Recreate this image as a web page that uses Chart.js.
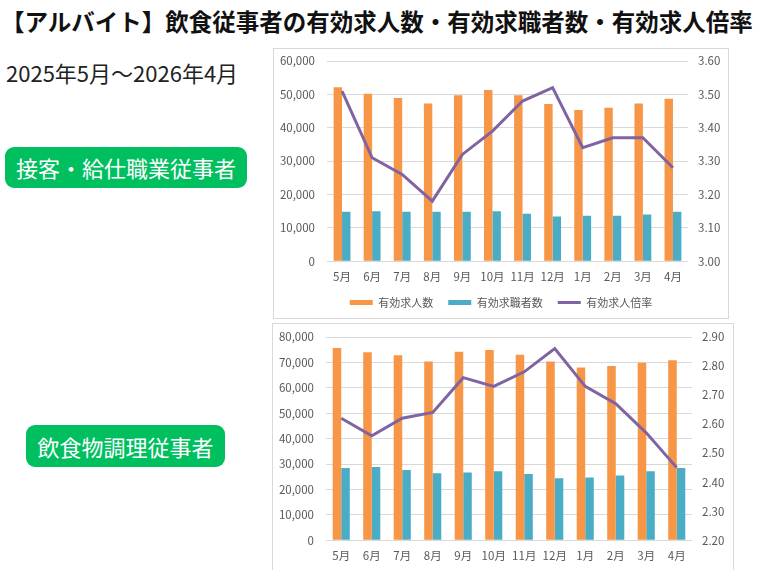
<!DOCTYPE html>
<html lang="ja">
<head>
<meta charset="utf-8">
<script src="https://cdn.jsdelivr.net/npm/chart.js@4"></script>
<style>
  html, body { margin: 0; padding: 0; background: #fff; }
  body { width: 760px; height: 570px; position: relative; overflow: hidden;
         font-family: "Noto Sans CJK JP", "Noto Sans", sans-serif; }
  .title { position: absolute; left: 1px; top: 4px; font-size: 23.5px; font-weight: bold;
           color: #111; white-space: nowrap; line-height: 34px; }
  .period { position: absolute; left: 6px; top: 56px; font-size: 22px; color: #222;
            white-space: nowrap; line-height: 32px; }
  .tag { position: absolute; background: #00bf5f; color: #fff; border-radius: 9px;
         font-size: 22px; text-align: center; white-space: nowrap; }
  .box { position: absolute; border: 1px solid #d9d9d9; background: #fff; }
  .box canvas { display: block; }
</style>
</head>
<body>
<div class="title">【アルバイト】飲食従事者の有効求人数・有効求職者数・有効求人倍率</div>
<div class="period">2025年5月～2026年4月</div>
<div class="tag" style="left:5px; top:147px; width:242px; height:41px; line-height:41px;">接客・給仕職業従事者</div>
<div class="tag" style="left:26px; top:425px; width:199px; height:42px; line-height:42px;">飲食物調理従事者</div>

<div class="box" style="left:273px; top:48px; width:454px; height:269px;">
  <canvas id="servingChart" width="454" height="269"></canvas>
</div>
<div class="box" style="left:272px; top:323px; width:460px; height:275px;">
  <canvas id="cookingChart" width="460" height="273"></canvas>
</div>

<script>
const categories = ["5月", "6月", "7月", "8月", "9月", "10月", "11月", "12月", "1月", "2月", "3月", "4月"];
const seriesNames = ["有効求人数", "有効求職者数", "有効求人倍率"];

// 接客・給仕職業従事者
const servingOpenings = [52100, 50200, 48900, 47300, 49700, 51300, 49700, 47100, 45300, 46000, 47300, 48700];
const servingSeekers = [14800, 15000, 14800, 14800, 14800, 15000, 14200, 13400, 13600, 13600, 14000, 14800];
const servingRatio = [3.51, 3.31, 3.26, 3.18, 3.32, 3.39, 3.48, 3.52, 3.34, 3.37, 3.37, 3.28];
const servingLeftTicks = [0, 60000, 10000];
const servingRightTicks = [3.0, 3.6, 0.1];

// 飲食物調理従事者
const cookingOpenings = [75700, 74000, 72800, 70400, 74200, 74900, 73000, 70400, 68000, 68600, 69900, 70800];
const cookingSeekers = [28400, 28800, 27600, 26400, 26700, 27100, 26100, 24400, 24700, 25500, 27100, 28400];
const cookingRatio = [2.62, 2.56, 2.62, 2.64, 2.76, 2.73, 2.78, 2.86, 2.73, 2.67, 2.57, 2.45];
const cookingLeftTicks = [0, 80000, 10000];
const cookingRightTicks = [2.2, 2.9, 0.1];

const orange = "#f79646";
const blue = "#4bacc6";
const purple = "#8064a2";
const tickColor = "#595959";
const gridColor = "#d9d9d9";
const fontFamily = '"Noto Sans CJK JP", "Noto Sans", sans-serif';

// default legend items, with a little extra room after each text
function spacedLabels(chart) {
   const items = Chart.defaults.plugins.legend.labels.generateLabels(chart);
   items.sort((a, b) => a.datasetIndex - b.datasetIndex);
   items.forEach((item, i) => {
      if (i < items.length - 1) item.text = item.text + "\u2002\u2002";
   });
   return items;
}

function makeChart(id, openings, seekers, ratio, leftTicks, rightTicks, leftWidth, rightWidth, topPad) {
   const ctx = document.getElementById(id).getContext("2d");
   return new Chart(ctx, {
      type: "bar",
      data: {
         labels: categories,
         datasets: [
            {
               label: seriesNames[0],
               data: openings,
               backgroundColor: orange,
               yAxisID: "y",
               categoryPercentage: 0.56,
               barPercentage: 1.0,
               pointStyle: "rect",
            },
            {
               label: seriesNames[1],
               data: seekers,
               backgroundColor: blue,
               yAxisID: "y",
               categoryPercentage: 0.56,
               barPercentage: 1.0,
               pointStyle: "rect",
            },
            {
               type: "line",
               label: seriesNames[2],
               data: ratio,
               borderColor: purple,
               backgroundColor: purple,
               borderWidth: 3,
               pointRadius: 0,
               pointStyle: "line",
               tension: 0,
               yAxisID: "y1",
               order: -1,
            },
         ],
      },
      options: {
         responsive: false,
         animation: false,
         layout: { padding: { top: topPad, left: 0, right: 0, bottom: 0 } },
         plugins: {
            legend: {
               position: "bottom",
               labels: {
                  usePointStyle: true,
                  pointStyleWidth: 23,
                  boxHeight: 5,
                  padding: 4,
                  color: tickColor,
                  font: { family: fontFamily, size: 11 },
                  generateLabels: spacedLabels,
               },
            },
            tooltip: { enabled: false },
         },
         scales: {
            x: {
               grid: { display: false, drawTicks: false },
               border: { display: false },
               ticks: {
                  color: tickColor,
                  padding: 9,
                  maxRotation: 0,
                  minRotation: 0,
                  autoSkip: false,
                  font: { family: fontFamily, size: 11.5 },
               },
            },
            y: {
               position: "left",
               min: leftTicks[0],
               max: leftTicks[1],
               afterFit: (scale) => { scale.width = leftWidth; },
               grid: { color: gridColor, drawTicks: true, tickLength: 12, tickColor: "rgba(0,0,0,0)" },
               border: { display: false },
               ticks: {
                  stepSize: leftTicks[2],
                  padding: 0,
                  color: tickColor,
                  font: { family: fontFamily, size: 11.5 },
                  callback: (v) => v.toLocaleString("en-US"),
               },
            },
            y1: {
               position: "right",
               min: rightTicks[0],
               max: rightTicks[1],
               afterFit: (scale) => { scale.width = rightWidth; },
               grid: { display: false, drawTicks: true, tickLength: 10 },
               border: { display: false },
               ticks: {
                  stepSize: rightTicks[2],
                  padding: 0,
                  color: tickColor,
                  font: { family: fontFamily, size: 11.5 },
                  callback: (v) => v.toFixed(2),
               },
            },
         },
      },
   });
}

makeChart("servingChart", servingOpenings, servingSeekers, servingRatio,
   servingLeftTicks, servingRightTicks, 53, 40, 12);
makeChart("cookingChart", cookingOpenings, cookingSeekers, cookingRatio,
   cookingLeftTicks, cookingRightTicks, 53, 41, 13);
</script>
</body>
</html>
